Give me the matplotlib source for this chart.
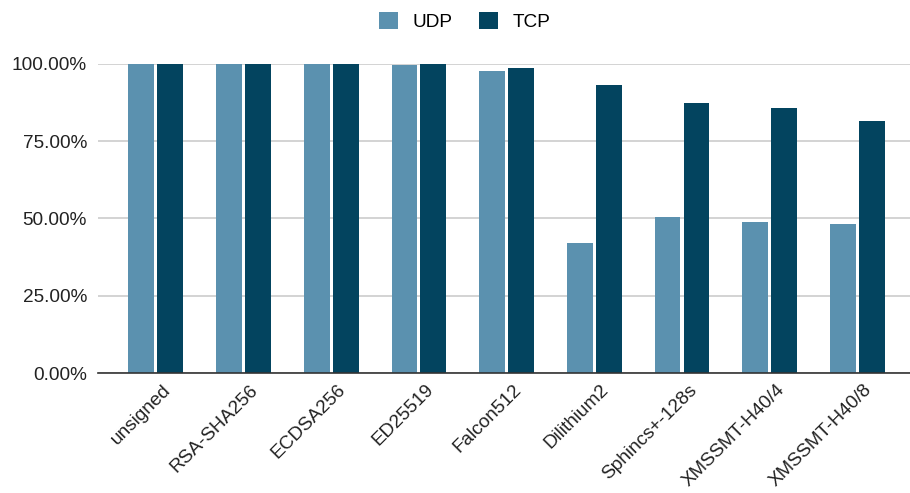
import matplotlib.pyplot as plt
import matplotlib.transforms as mtransforms
import numpy as np
from matplotlib.ticker import PercentFormatter

plt.rcParams['font.family'] = ['Liberation Sans', 'DejaVu Sans']

schemes = ['unsigned', 'RSA-SHA256', 'ECDSA256', 'ED25519', 'Falcon512',
           'Dilithium2', 'Sphincs+-128s', 'XMSSMT-H40/4', 'XMSSMT-H40/8']
udp = [100.0, 100.0, 100.0, 99.7, 97.6, 42.2, 50.4, 48.8, 48.3]
tcp = [100.0, 100.0, 100.0, 100.0, 98.7, 93.1, 87.4, 85.8, 81.6]

udp_color = '#5b91af'
tcp_color = '#03445f'

fig = plt.figure(figsize=(9.10, 4.93), dpi=100)
ax = fig.add_axes([0.1077, 0.2434, 0.8923, 0.6268])

x = np.arange(len(schemes))
w = 0.295
gap = 0.035
ax.bar(x - (w + gap) / 2, udp, w, color=udp_color, label='UDP', zorder=3)
ax.bar(x + (w + gap) / 2, tcp, w, color=tcp_color, label='TCP', zorder=3)

ax.set_ylim(0, 100)
ax.set_xlim(-0.66, 8.6)
ax.set_yticks([0, 25, 50, 75, 100])
ax.yaxis.set_major_formatter(PercentFormatter(decimals=2))
ax.grid(axis='y', color='#cccccc', linewidth=1.2, zorder=0)
ax.tick_params(axis='both', length=0, labelsize=13.7, colors='#222222')
ax.tick_params(axis='y', pad=8)

ax.set_xticks(x)
ax.set_xticklabels(schemes, rotation=45, ha='right', rotation_mode='anchor')
ax.tick_params(axis='x', pad=6)
# nudge the slanted labels a little to the right
shift = mtransforms.ScaledTranslation(6 / 100, 0, fig.dpi_scale_trans)
for lbl in ax.get_xticklabels():
    lbl.set_transform(lbl.get_transform() + shift)

for side in ['top', 'right', 'left']:
    ax.spines[side].set_visible(False)
ax.spines['bottom'].set_color('#333333')
ax.spines['bottom'].set_linewidth(1.2)
ax.spines['bottom'].set_zorder(4)

fig.legend(loc='upper center', bbox_to_anchor=(0.511, 1.01), ncol=2,
           frameon=False, fontsize=13.7, handlelength=1.0, handleheight=1.0,
           columnspacing=1.4, handletextpad=0.75)

fig.savefig('out.png', dpi=100)
